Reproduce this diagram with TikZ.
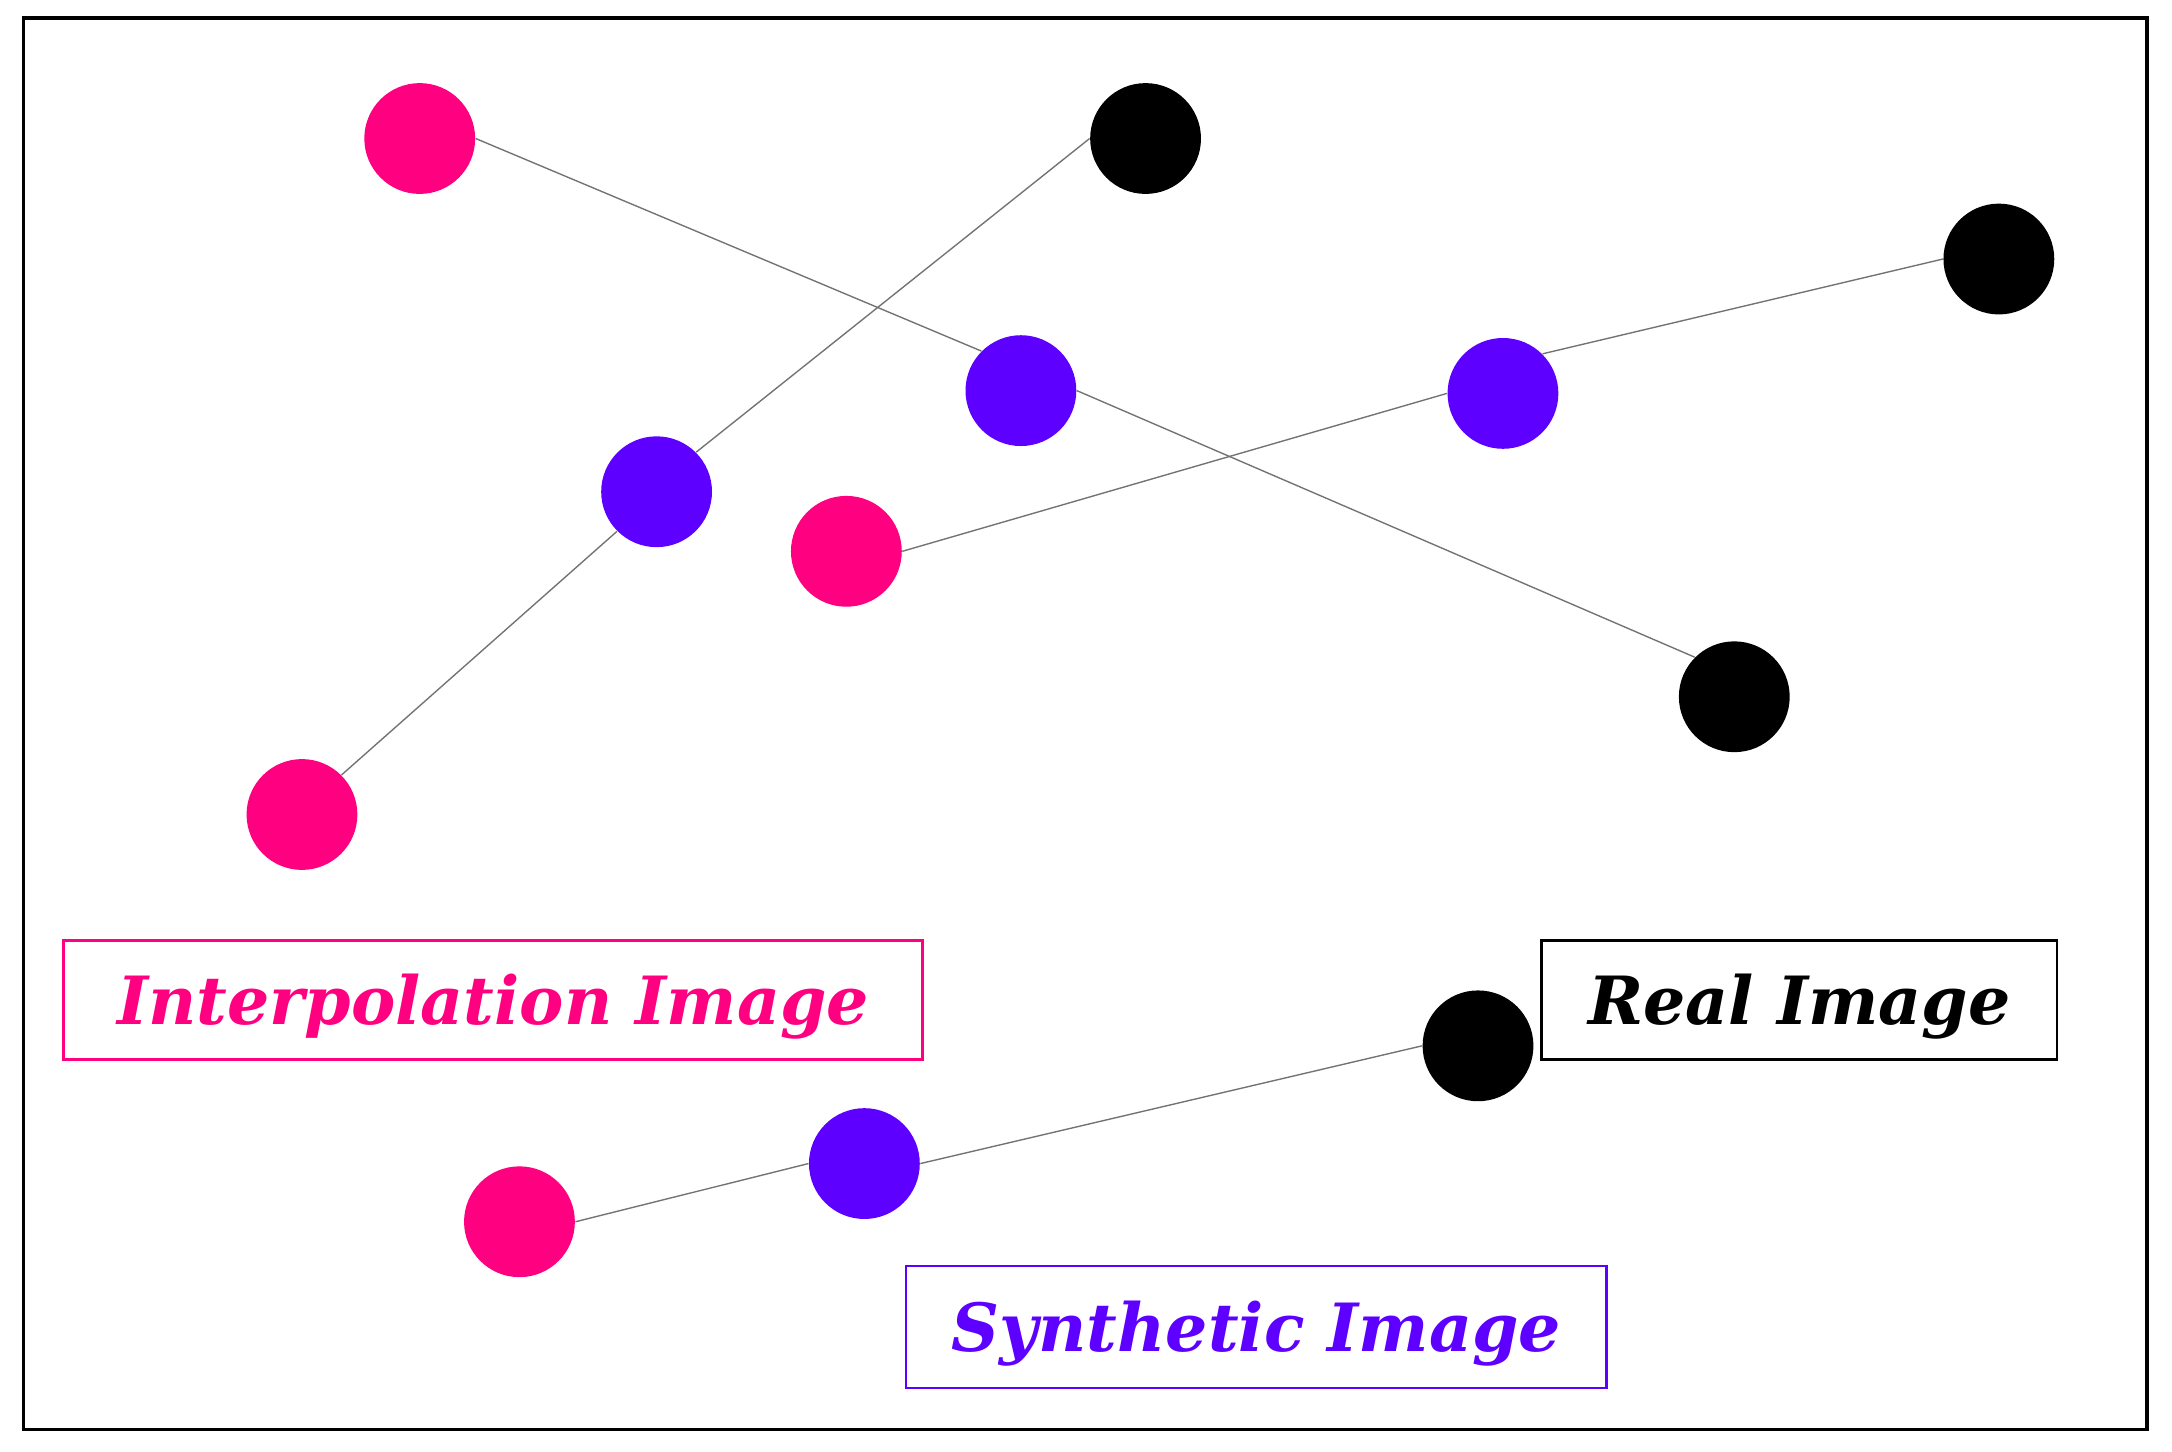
\documentclass[tikz,border=0pt]{standalone}
\usepackage{fontspec}
\newfontfamily\labelfont{DejaVu Serif}
\definecolor{ipink}{RGB}{255,0,128}
\definecolor{ipurple}{RGB}{94,0,255}
\begin{document}
\begin{tikzpicture}[x=0.5pt,y=-0.5pt,
  dot/.style={circle,minimum size=40pt,inner sep=0pt,draw=none},
  pinkdot/.style={dot,fill=ipink},
  purpledot/.style={dot,fill=ipurple},
  blackdot/.style={dot,fill=black},
  link/.style={draw=black!55,line width=0.5pt},
  labelbox/.style={draw,line width=1pt,minimum height=43pt,inner sep=0pt,
    text height=17.5pt,text depth=0pt,
    font=\labelfont\fontsize{24}{29}\selectfont\bfseries\itshape}
]
\useasboundingbox (0,0) rectangle (1568,1048);
\draw[line width=1.2pt] (17,13) rectangle (1550,1032);

\node[pinkdot] (P1) at (303,100) {};
\node[pinkdot] (P2) at (611,398) {};
\node[pinkdot] (P3) at (218,588) {};
\node[pinkdot] (P4) at (375,882) {};
\node[purpledot] (B1) at (737,282) {};
\node[purpledot] (B2) at (474,355) {};
\node[purpledot] (B3) at (1085,284) {};
\node[purpledot] (B4) at (624,840) {};
\node[blackdot] (K1) at (827,100) {};
\node[blackdot] (K2) at (1443,187) {};
\node[blackdot] (K3) at (1252,503) {};
\node[blackdot] (K4) at (1067,755) {};

\draw[link] (P1.east) -- (B1.north west);
\draw[link] (B1.east) -- (K3.north west);
\draw[link] (P3.north east) -- (B2.south west);
\draw[link] (B2.north east) -- (K1.west);
\draw[link] (P2.east) -- (B3.west);
\draw[link] (B3.north east) -- (K2.west);
\draw[link] (P4.east) -- (B4.west);
\draw[link] (B4.east) -- (K4.west);

\node[labelbox,draw=ipink,text=ipink,minimum width=310pt] (Lint) at (356,722) {Interpolation Image};
\node[labelbox,draw=black,text=black,minimum width=186pt] (Lreal) at (1299,722) {Real Image};
\node[labelbox,draw=ipurple,text=ipurple,minimum width=253pt,minimum height=44pt] (Lsyn) at (907,958) {Synthetic Image};
\end{tikzpicture}
\end{document}
